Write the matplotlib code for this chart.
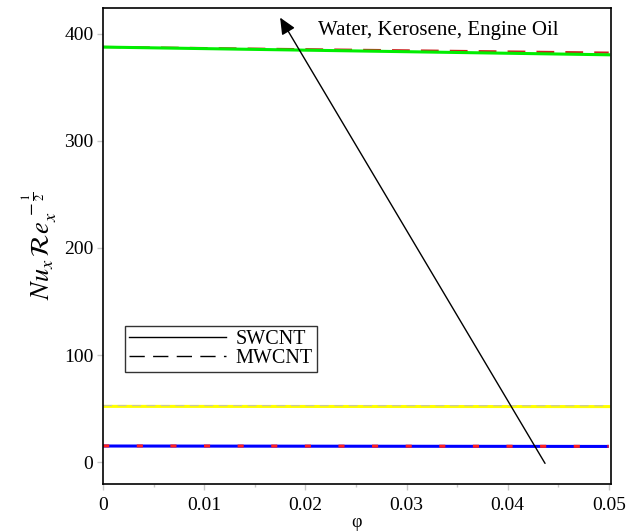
import numpy as np
import matplotlib.pyplot as plt
from matplotlib.ticker import MultipleLocator

plt.rcParams['font.family'] = ['Liberation Serif', 'DejaVu Serif']
plt.rcParams['mathtext.fontset'] = 'stix'

# volume fraction of nanotubes
phi = [0.0, 0.05]

# local Nusselt number for each base fluid
water_sw = [15.2, 14.8]
water_mw = [15.3, 14.9]
kero_sw = [52.2, 52.0]
kero_mw = [53.0, 52.8]
oil_sw = [387.5, 380.3]
oil_mw = [387.6, 382.3]

fig = plt.figure(figsize=(6.29, 5.31), dpi=100)
ax = fig.add_axes([0.164, 0.088, 0.807, 0.897])

ax.plot(phi, water_sw, color='#0000ff', lw=2.2, solid_capstyle='butt')
ax.plot(phi, water_mw, color='#ff2020', lw=2.2, dashes=(2, 9), dash_capstyle='butt')
ax.plot(phi, kero_sw, color='#ffff00', lw=2.2)
ax.plot(phi, kero_mw, color='#c8c8a0', lw=0.8, dashes=(8, 5))
ax.plot(phi, oil_mw, color='#cc2020', lw=1.6, dashes=(8, 5))
ax.plot(phi, oil_sw, color='#00ee00', lw=2.2)

# legend
sw, = ax.plot([], [], color='black', lw=1.0)
mw, = ax.plot([], [], color='black', lw=1.0, dashes=(11, 6))
leg = ax.legend([sw, mw], ['SWCNT', 'MWCNT'], loc='lower left',
                bbox_to_anchor=(0.043, 0.235), fontsize=14.5, handlelength=4.8,
                frameon=True, fancybox=False, borderpad=0.2, labelspacing=0.0,
                handletextpad=0.5, borderaxespad=0)
leg.get_frame().set_edgecolor('black')
leg.get_frame().set_linewidth(1.0)

ax.annotate('', xy=(0.0175, 415), xytext=(0.0437, -1),
            arrowprops=dict(arrowstyle='-|>,head_length=1.0,head_width=0.45',
                            color='black', lw=1.0, shrinkA=0, shrinkB=0))
ax.text(0.0212, 403, 'Water, Kerosene, Engine Oil', fontsize=15, va='center', ha='left')

ax.set_xlim(0, 0.0502)
ax.set_ylim(-20.5, 424)
ax.xaxis.set_minor_locator(MultipleLocator(0.005))
ax.yaxis.set_major_locator(MultipleLocator(100))
ax.set_xticks([0, 0.01, 0.02, 0.03, 0.04, 0.05])
ax.set_xticklabels(['0', '0.01', '0.02', '0.03', '0.04', '0.05'])
ax.tick_params(axis='both', which='both', direction='out', color='#c8c8c8',
               labelsize=14, width=1.0)
ax.tick_params(which='major', length=4)
ax.tick_params(which='minor', length=2.5)
ax.tick_params(axis='x', pad=5)
ax.tick_params(axis='y', pad=3)
for s in ax.spines.values():
    s.set_linewidth(1.2)

ax.set_xlabel('φ', fontsize=13, labelpad=0)
ax.set_ylabel(r'$Nu_x\,\mathcal{R}e_x^{\,-\frac{1}{2}}$', fontsize=19, labelpad=4)

fig.savefig('out.png', dpi=100)
